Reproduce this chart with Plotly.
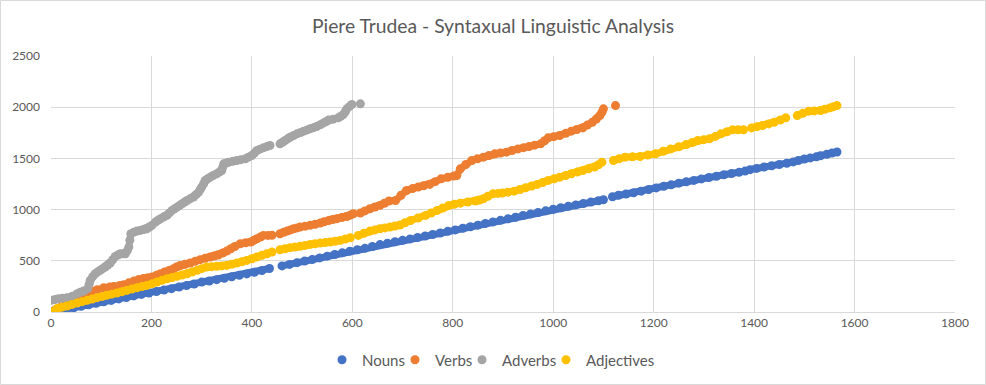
import plotly.graph_objects as go

# ---- Data (None marks a visible break in the series) ----
nouns_x = [0,15,30,45,60,75,90,105,120,135,150,165,180,195,210,225,240,255,270,285,300,315,330,345,360,375,390,405,420,435,None,
           460,475,490,505,520,535,550,565,580,595,610,625,640,655,670,685,700,715,730,745,760,775,790,805,820,835,850,865,880,895,
           910,925,940,955,970,985,1000,1015,1030,1045,1060,1075,1090,1100,None,
           1118,1130,1145,1160,1175,1190,1205,1220,1235,1250,1265,1280,1295,1310,1325,1340,1355,1370,1382,None,
           1392,1405,1420,1435,1450,1465,1478,None,1488,1500,1512,1524,None,1532,1545,1555,1565]
nouns_y = [2,12,25,40,55,70,85,100,113,128,142,157,172,186,200,214,228,243,258,273,292,302,316,330,344,358,372,388,405,425,None,
           450,465,482,497,512,528,545,562,578,594,608,622,640,658,672,686,700,714,728,742,757,772,788,802,818,833,848,865,880,895,
           910,925,942,958,972,988,1003,1018,1032,1046,1060,1073,1086,1096,None,
           1126,1140,1152,1165,1180,1196,1212,1228,1242,1258,1272,1285,1300,1313,1326,1340,1352,1364,1376,None,
           1390,1402,1416,1428,1440,1453,1466,None,1480,1494,1505,1515,None,1526,1540,1552,1562]

verbs_x = [0,10,20,30,40,50,60,70,80,92,105,117,125,137,145,155,165,175,184,193,201,210,218,226,235,244,250,257,267,277,
           287,297,307,317,325,333,342,350,358,366,377,388,398,404,410,417,423,432,440,None,
           456,463,470,477,483,490,496,506,516,526,536,544,553,561,569,579,589,596,602,None,
           616,625,635,645,655,664,673,686,697,708,720,731,742,754,765,777,790,802,808,815,826,838,849,861,872,884,895,907,
           918,930,941,952,963,975,983,990,1001,1013,1025,1036,1047,1059,1068,1078,1086,1093,1097,1100,None,
           1124]
verbs_y = [5,25,50,72,95,120,150,180,200,218,237,245,250,258,267,285,302,318,328,335,341,358,374,390,405,423,440,455,466,478,
           495,511,525,537,547,556,575,595,618,640,667,676,683,700,715,732,748,748,750,None,
           764,778,790,802,813,821,829,838,846,857,868,881,894,903,911,922,933,946,959,None,
           966,987,1008,1025,1041,1062,1084,1089,1140,1187,1205,1220,1233,1246,1273,1301,1315,1328,1333,1398,1440,1480,1496,1512,1528,1545,1553,1561,
           1577,1593,1605,1616,1629,1642,1672,1701,1712,1724,1745,1766,1782,1798,1825,1853,1885,1918,1950,1984,None,
           2016]

adverbs_x = [0,8,15,23,32,42,52,58,65,73,76,78,83,88,93,98,103,108,113,118,123,128,133,138,143,148,152,155,157,159,
             165,171,178,185,191,196,201,208,213,218,224,231,236,241,246,251,256,261,266,271,277,284,289,294,297,300,304,307,
             312,317,323,330,335,340,342,344,349,354,362,370,378,387,393,400,405,410,416,423,430,436,None,
             456,461,466,471,476,483,490,497,503,510,516,523,529,536,542,548,553,562,572,577,582,586,589,594,599,None,
             616]
adverbs_y = [115,122,130,135,140,153,179,192,205,228,270,309,345,374,392,407,423,439,458,478,510,543,556,569,569,569,600,634,700,764,
             780,790,797,805,813,830,846,878,895,911,927,943,968,992,1008,1024,1040,1057,1073,1089,1105,1122,1146,1171,1195,1220,1252,1285,
             1301,1317,1333,1350,1366,1382,1415,1447,1455,1463,1471,1480,1488,1496,1512,1528,1552,1577,1590,1603,1615,1626,None,
             1642,1658,1675,1691,1707,1724,1740,1753,1766,1778,1789,1800,1811,1828,1844,1860,1876,1883,1896,1912,1928,1956,1984,2005,2026,None,
             2033]

adjectives_x = [0,12,22,32,42,52,62,72,82,92,102,111,121,131,141,151,161,171,181,191,201,211,221,231,241,251,261,271,281,291,
                300,310,320,330,340,350,360,370,380,390,400,410,420,430,440,None,
                456,466,476,486,496,506,516,526,536,546,556,566,576,586,596,None,
                612,623,635,645,655,665,675,685,695,705,716,731,746,757,769,780,792,803,815,830,845,853,861,870,880,890,899,910,
                922,934,945,957,968,979,990,1002,1013,1025,1036,1048,1059,1070,1082,1090,1097,None,
                1120,1131,1143,1158,1173,1188,1204,1219,1234,1250,1265,1277,1288,1300,1311,1323,1334,1346,1357,1368,1379,None,
                1395,1406,1417,1429,1440,1452,1463,None,
                1486,1497,1509,1520,1532,1541,1551,1558,1565]
adjectives_y = [0,33,47,59,74,88,101,114,127,140,152,163,174,185,198,211,224,237,248,260,276,293,309,325,336,348,361,374,390,407,
                423,439,443,446,450,455,466,478,491,504,520,537,553,569,585,None,
                608,618,628,635,641,650,660,667,673,678,683,691,699,712,725,None,
                748,769,790,802,813,821,829,840,850,872,894,918,943,967,992,1016,1041,1052,1063,1073,1083,1094,1106,1130,1154,1158,1161,1170,
                1180,1196,1213,1230,1246,1265,1285,1301,1317,1333,1350,1366,1382,1398,1415,1437,1463,None,
                1480,1496,1512,1515,1519,1532,1545,1569,1593,1614,1636,1655,1675,1683,1691,1715,1740,1760,1779,1779,1779,None,
                1798,1810,1821,1837,1853,1875,1896,None,
                1918,1940,1961,1964,1967,1980,1993,2005,2016]

x_ticks = [0, 200, 400, 600, 800, 1000, 1200, 1400, 1600, 1800]
y_ticks = [0, 500, 1000, 1500, 2000, 2500]

series_names = ["Nouns", "Verbs", "Adverbs", "Adjectives"]
series_colors = ["#4472C4", "#ED7D31", "#A5A5A5", "#FFC000"]
series_data = [(nouns_x, nouns_y), (verbs_x, verbs_y), (adverbs_x, adverbs_y), (adjectives_x, adjectives_y)]

# layout constants
L, R, T, B = 51, 31, 56, 73
W, H = 986, 385
PW, PH = W - L - R, H - T - B
legend_ids = ["legend", "legend2", "legend3", "legend4"]
legend_left_px = [322, 395, 462, 546]   # left edge of each legend entry (px)
font_family = "Lato, Open Sans, sans-serif"

fig = go.Figure()
for i, (name, col, (xs, ys)) in enumerate(zip(series_names, series_colors, series_data)):
    # thick connector that merges the dense points into a solid band (no legend entry)
    fig.add_trace(go.Scatter(
        x=xs, y=ys, mode="lines", name=name, legendgroup=name, showlegend=False,
        connectgaps=False, line=dict(color=col, width=7), hoverinfo="skip",
    ))
    # the points themselves (legend entry)
    fig.add_trace(go.Scatter(
        x=xs, y=ys, mode="markers", name=name, legendgroup=name, legend=legend_ids[i],
        marker=dict(color=col, size=9, line=dict(width=0)),
    ))

legend_layouts = {}
for lid, lx in zip(legend_ids, legend_left_px):
    legend_layouts[lid] = dict(
        orientation="h", x=(lx - L) / PW, xanchor="left", y=-48 / PH, yanchor="middle",
        font=dict(family=font_family, size=15, color="#595959"), itemwidth=30,
        bgcolor="rgba(0,0,0,0)", borderwidth=0,
    )

fig.update_layout(
    width=W, height=H,
    margin=dict(l=L, r=R, t=T, b=B, autoexpand=False),
    paper_bgcolor="white", plot_bgcolor="white",
    title=dict(text="Piere Trudea - Syntaxual Linguistic Analysis",
               x=0.5, xanchor="center", y=1 - 26 / H, yanchor="middle",
               font=dict(family=font_family, size=19.3, color="#595959")),
    font=dict(family=font_family, size=12, color="#595959"),
    showlegend=True,
    xaxis=dict(range=[0, 1800], tickvals=x_ticks, showgrid=True, gridcolor="#D9D9D9",
               gridwidth=1, zeroline=False, showline=True, linecolor="#D9D9D9",
               ticks="", tickfont=dict(size=12, color="#595959"), automargin=False,
               fixedrange=True),
    yaxis=dict(range=[0, 2500], tickvals=y_ticks, showgrid=True, gridcolor="#D9D9D9",
               gridwidth=1, zeroline=False, showline=False, automargin=False,
               ticks="", ticklabelstandoff=10, tickfont=dict(size=12, color="#595959"),
               fixedrange=True),
    shapes=[dict(type="rect", xref="paper", yref="paper", x0=-(L - 0.5) / PW, x1=1 + (R - 0.5) / PW,
                 y0=-(B - 0.5) / PH, y1=1 + (T - 0.5) / PH, line=dict(color="#D9D9D9", width=1))],
    **legend_layouts,
)

fig.write_html("out.html", config={"displayModeBar": False},
               post_script="document.body.style.margin='0';")
